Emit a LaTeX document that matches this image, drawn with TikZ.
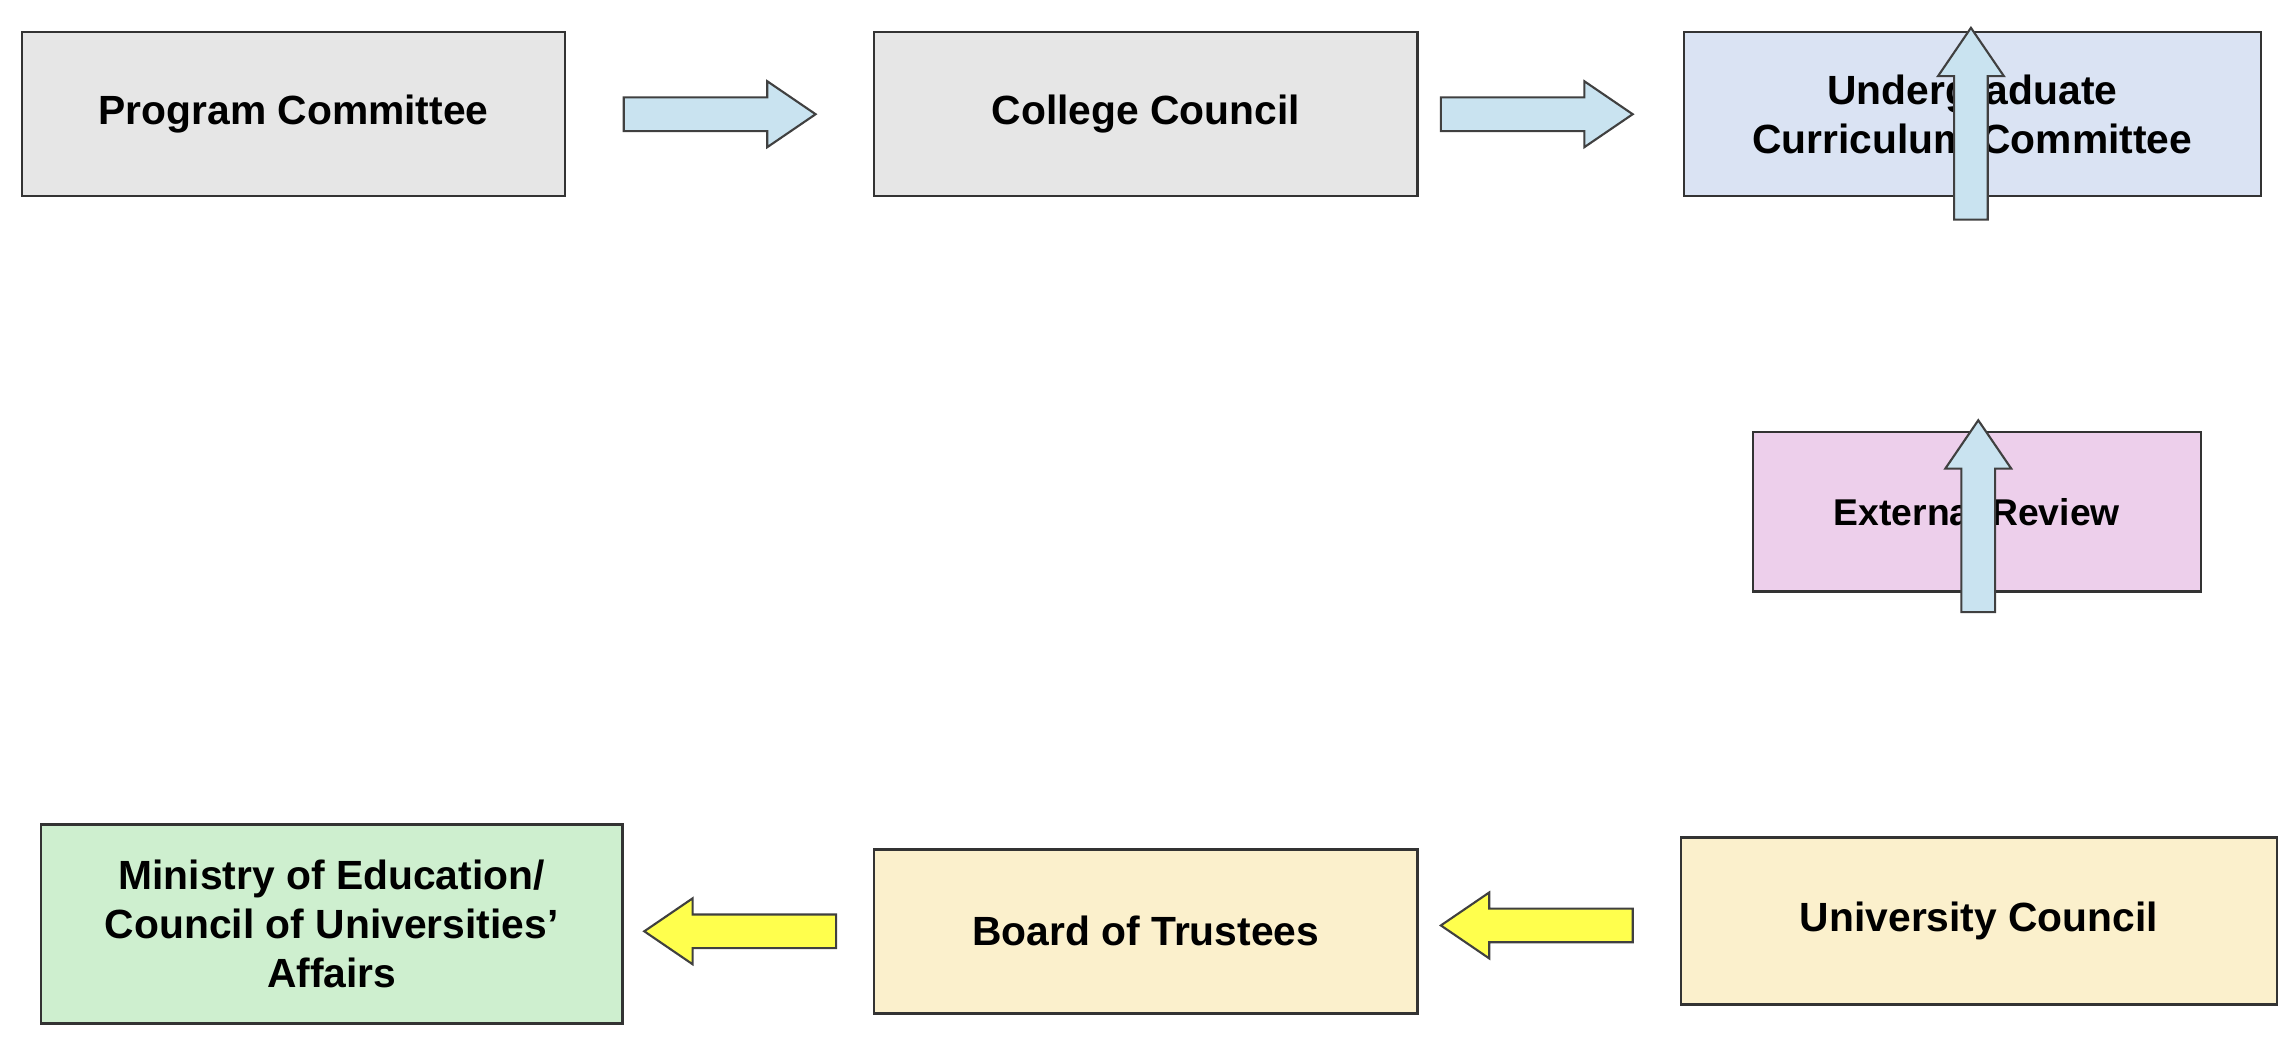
\documentclass[tikz,border=0pt]{standalone}
\usepackage{fontspec}
\setmainfont{Liberation Sans}
\begin{document}
\begin{tikzpicture}[x=0.01464cm,y=-0.01464cm,
  box/.style={draw=black!80,line width=0.7pt,inner sep=0pt,align=center,font=\fontsize{11.6}{14}\selectfont\bfseries},
  pics/barrow/.style={code={\draw[line width=0.6pt,draw=black!75,fill=#1] (0,-11.5)--(98,-11.5)--(98,-22.5)--(131,0)--(98,22.5)--(98,11.5)--(0,11.5)--cycle;}}]
\useasboundingbox (0,0) rectangle (1568,715);
\definecolor{gr}{HTML}{E6E6E6}
\definecolor{bl}{HTML}{DAE3F3}
\definecolor{pk}{HTML}{EDCFEB}
\definecolor{yl}{HTML}{FBF0CC}
\definecolor{gn}{HTML}{CEEFCF}
\definecolor{ab}{HTML}{C9E3F0}
\definecolor{ay}{HTML}{FFFF4D}
\node[box,fill=gr,minimum width=371*0.01464cm,minimum height=112*0.01464cm] (pc) at (200.5,78) {Program Committee};
\node[box,fill=gr,minimum width=371*0.01464cm,minimum height=112*0.01464cm] (cc) at (782.5,78) {College Council};
\node[box,fill=bl,minimum width=394*0.01464cm,minimum height=112*0.01464cm] (ucc) at (1347,78) {Undergraduate\\Curriculum Committee};
\node[box,fill=pk,minimum width=306*0.01464cm,minimum height=109*0.01464cm,font=\fontsize{10.6}{13}\selectfont\bfseries] (er) at (1350,349.5) {External Review};
\node[box,fill=yl,minimum width=407*0.01464cm,minimum height=114*0.01464cm] (uc) at (1351.5,629) {University Council};
\node[box,fill=yl,minimum width=371*0.01464cm,minimum height=112*0.01464cm] (bt) at (782.5,636) {Board of Trustees};
\node[box,fill=gn,minimum width=397*0.01464cm,minimum height=136*0.01464cm] (me) at (226.5,631) {Ministry of Education/\\Council of Universities’\\Affairs};
\pic at (426,78) {barrow=ab};
\pic at (984,78) {barrow=ab};
\pic[rotate=90] at (1346,150) {barrow=ab};
\pic[rotate=90] at (1351,418) {barrow=ab};
\pic[rotate=180] at (1115,632) {barrow=ay};
\pic[rotate=180] at (571,636) {barrow=ay};
\end{tikzpicture}
\end{document}
